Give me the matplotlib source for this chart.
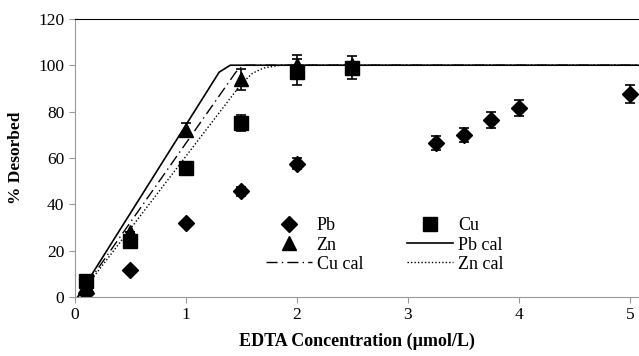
import numpy as np
import matplotlib.pyplot as plt
from matplotlib.lines import Line2D

plt.rcParams['font.family'] = ['Liberation Serif', 'DejaVu Serif']

conc_pb = [0.1, 0.5, 1.0, 1.5, 2.0, 3.25, 3.5, 3.75, 4.0, 5.0]
pb = [1.5, 11.5, 32, 45.5, 57.5, 66.5, 70, 76.5, 81.5, 87.5]
pb_err = [0, 0, 0, 2, 2.5, 3, 3, 3.5, 3.5, 4]

conc = [0.1, 0.5, 1.0, 1.5, 2.0, 2.5]
zn = [5, 28, 72, 94, 100, 100]
zn_err = [0, 0, 3, 4.5, 4.5, 0]
cu = [7, 24, 55.5, 75, 97, 99]
cu_err = [0, 0, 0, 3.5, 5.5, 5]

pb_cal_x = [0, 1.3, 1.4, 5.1]
pb_cal_y = [-2, 97, 100, 100]
cu_cal_x = [0, 1.45, 1.52, 5.1]
cu_cal_y = [-2, 97, 100, 100]
zn_cal_x = [0, 1.5, 1.6, 1.7, 1.85, 5.1]
zn_cal_y = [-2, 92, 96.5, 98.8, 100, 100]

fig = plt.figure(figsize=(6.39, 3.56), dpi=100)
ax = fig.add_axes([0.117, 0.166, 0.883, 0.781])

eb = dict(capsize=3.5, elinewidth=1.2, capthick=1.2, ecolor='black', linestyle='none')
ax.errorbar(conc_pb, pb, yerr=pb_err, marker='D', ms=8.5, color='black', **eb)
ax.errorbar(conc, zn, yerr=zn_err, marker='^', ms=10, color='black', **eb)
ax.plot(cu_cal_x, cu_cal_y, color='black', lw=1, dashes=(8, 3, 1, 3))
ax.errorbar(conc, cu, yerr=cu_err, marker='s', ms=10, color='black', **eb)
ax.plot(pb_cal_x, pb_cal_y, color='black', lw=1.2)
ax.plot(zn_cal_x, zn_cal_y, color='black', lw=1, linestyle=(0, (1, 1.5)))

ax.set_xlim(0, 5.08)
ax.set_ylim(0, 120)
ax.set_xticks([0, 1, 2, 3, 4, 5])
ax.set_yticks(range(0, 121, 20))
ax.tick_params(labelsize=12.5, color='#999999', length=4)
for s in ['left', 'bottom']:
    ax.spines[s].set_color('#999999')
ax.spines['top'].set_color('black')
ax.spines['right'].set_visible(False)

ax.set_xlabel('EDTA Concentration (µmol/L)', fontsize=13, fontweight='bold', labelpad=7)
ax.set_ylabel('% Desorbed', fontsize=12.5, fontweight='bold', labelpad=10)

handles = [
    Line2D([], [], marker='D', ms=8.5, color='black', linestyle='none'),
    Line2D([], [], marker='^', ms=10, color='black', linestyle='none'),
    Line2D([], [], color='black', lw=1, dashes=(8, 3, 1, 3)),
    Line2D([], [], marker='s', ms=10, color='black', linestyle='none'),
    Line2D([], [], color='black', lw=1.2),
    Line2D([], [], color='black', lw=1, linestyle=(0, (1, 1.5))),
]
labels = ['Pb', 'Zn', 'Cu cal', 'Cu', 'Pb cal', 'Zn cal']
ax.legend(handles, labels, ncol=2, frameon=False, fontsize=13, loc='upper left',
          bbox_to_anchor=(0.339, 0.286), borderaxespad=0, borderpad=0,
          handlelength=2.55, columnspacing=2.45, labelspacing=0.12, handletextpad=0.25)

fig.savefig('out.png', dpi=100)
